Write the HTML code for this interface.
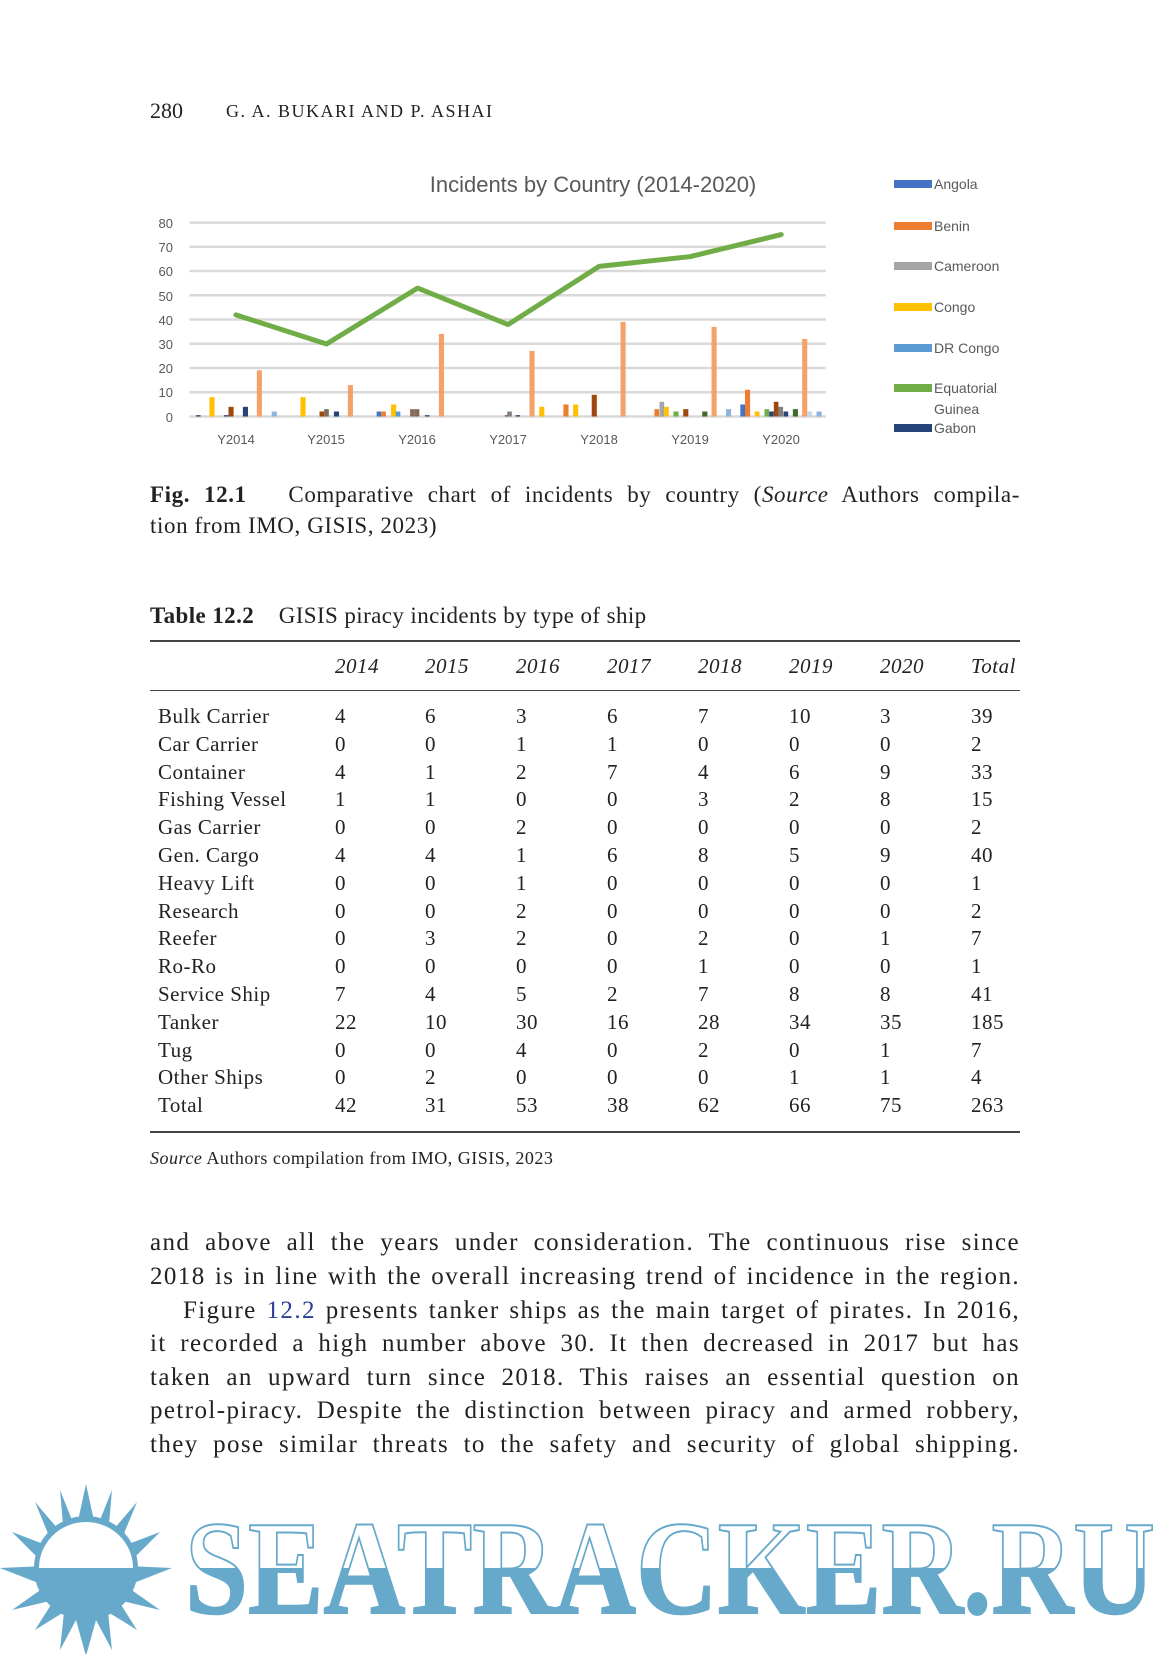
<!DOCTYPE html>
<html><head><meta charset="utf-8"><style>
body{margin:0;width:1166px;height:1654px;background:#fff;position:relative;overflow:hidden;font-family:"Liberation Serif",serif;color:#222}
.a{position:absolute;white-space:nowrap}
.j{position:absolute;left:150px;width:870px;text-align:justify;text-align-last:justify;white-space:nowrap;font-size:25px;line-height:25px;letter-spacing:1.4px}
.t{position:absolute;font-size:21px;line-height:21px;letter-spacing:0.5px}
.rule{position:absolute;left:150px;width:870px;height:1.5px;background:#444}
</style></head><body>
<div class="a" style="left:150px;top:98px;font-size:22px">280</div>
<div class="a" style="left:226px;top:101px;font-size:18px;letter-spacing:1.5px">G. A. BUKARI AND P. ASHAI</div>

<svg class="a" style="left:0;top:0" width="1166" height="460">
<text x="593" y="192" font-family="Liberation Sans" font-size="22" fill="#595959" text-anchor="middle">Incidents by Country (2014-2020)</text>
<g font-family="Liberation Sans" font-size="13" fill="#595959" text-anchor="end">
<text x="173" y="228">80</text><text x="173" y="252">70</text><text x="173" y="276">60</text><text x="173" y="301">50</text><text x="173" y="325">40</text><text x="173" y="349">30</text><text x="173" y="373">20</text><text x="173" y="397">10</text><text x="173" y="422">0</text>
</g>
<g font-family="Liberation Sans" font-size="13" fill="#595959" text-anchor="middle">
<text x="236" y="444">Y2014</text><text x="326" y="444">Y2015</text><text x="417" y="444">Y2016</text><text x="508" y="444">Y2017</text><text x="599" y="444">Y2018</text><text x="690" y="444">Y2019</text><text x="781" y="444">Y2020</text>
</g>
<g transform="translate(130,150) scale(0.4645,0.3344)">
<g stroke="#d9d9d9" stroke-width="2.5">
<line x1="128" x2="1498" y1="217" y2="217" vector-effect="non-scaling-stroke"/>
<line x1="128" x2="1498" y1="289.5" y2="289.5" vector-effect="non-scaling-stroke"/>
<line x1="128" x2="1498" y1="362" y2="362" vector-effect="non-scaling-stroke"/>
<line x1="128" x2="1498" y1="434.5" y2="434.5" vector-effect="non-scaling-stroke"/>
<line x1="128" x2="1498" y1="507" y2="507" vector-effect="non-scaling-stroke"/>
<line x1="128" x2="1498" y1="579.5" y2="579.5" vector-effect="non-scaling-stroke"/>
<line x1="128" x2="1498" y1="652" y2="652" vector-effect="non-scaling-stroke"/>
<line x1="128" x2="1498" y1="724.5" y2="724.5" vector-effect="non-scaling-stroke"/>
<line x1="128" x2="1498" y1="797" y2="797" vector-effect="non-scaling-stroke"/>
</g>
<g>
<rect x="142" y="793" width="10" height="4" fill="#264478"/>
<rect x="171" y="739" width="11" height="58" fill="#FFC000"/>
<rect x="202" y="793" width="10" height="4" fill="#264478"/>
<rect x="212" y="768" width="11" height="29" fill="#9E480E"/>
<rect x="243" y="768" width="11" height="29" fill="#264478"/>
<rect x="273" y="659" width="11" height="138" fill="#F4A26A"/>
<rect x="305" y="782" width="11" height="15" fill="#8FB4DE"/>
<rect x="367" y="739" width="11" height="58" fill="#FFC000"/>
<rect x="408" y="782" width="10" height="15" fill="#9E480E"/>
<rect x="418" y="775" width="10" height="22" fill="#7F6A5A"/>
<rect x="439" y="782" width="11" height="15" fill="#264478"/>
<rect x="469" y="703" width="11" height="94" fill="#F4A26A"/>
<rect x="531" y="782" width="10" height="15" fill="#4472C4"/>
<rect x="541" y="782" width="10" height="15" fill="#ED7D31"/>
<rect x="562" y="761" width="11" height="36" fill="#FFC000"/>
<rect x="572" y="782" width="10" height="15" fill="#5B9BD5"/>
<rect x="603" y="775" width="10" height="22" fill="#8B6A55"/>
<rect x="613" y="775" width="10" height="22" fill="#7F6A5A"/>
<rect x="635" y="793" width="10" height="4" fill="#264478"/>
<rect x="665" y="550" width="11" height="247" fill="#F4A26A"/>
<rect x="807" y="793" width="8" height="4" fill="#9E480E"/>
<rect x="812" y="782" width="10" height="15" fill="#7F7F7F"/>
<rect x="830" y="793" width="10" height="4" fill="#264478"/>
<rect x="860" y="601" width="11" height="196" fill="#F4A26A"/>
<rect x="881" y="768" width="11" height="29" fill="#FFC000"/>
<rect x="933" y="761" width="11" height="36" fill="#ED7D31"/>
<rect x="954" y="761" width="11" height="36" fill="#FFC000"/>
<rect x="994" y="732" width="11" height="65" fill="#9E480E"/>
<rect x="1056" y="514" width="11" height="283" fill="#F4A26A"/>
<rect x="1129" y="775" width="10" height="22" fill="#ED7D31"/>
<rect x="1140" y="753" width="10" height="44" fill="#A5A5A5"/>
<rect x="1150" y="768" width="10" height="29" fill="#FFC000"/>
<rect x="1170" y="782" width="11" height="15" fill="#70AD47"/>
<rect x="1191" y="775" width="11" height="22" fill="#9E480E"/>
<rect x="1232" y="782" width="11" height="15" fill="#43682B"/>
<rect x="1252" y="529" width="11" height="268" fill="#F4A26A"/>
<rect x="1283" y="775" width="11" height="22" fill="#8FB4DE"/>
<rect x="1314" y="761" width="10" height="36" fill="#4472C4"/>
<rect x="1324" y="717" width="11" height="80" fill="#ED7D31"/>
<rect x="1345" y="782" width="10" height="15" fill="#FFC000"/>
<rect x="1366" y="775" width="10" height="22" fill="#70AD47"/>
<rect x="1376" y="782" width="10" height="15" fill="#264478"/>
<rect x="1386" y="753" width="10" height="44" fill="#9E480E"/>
<rect x="1396" y="768" width="10" height="29" fill="#7F7F7F"/>
<rect x="1407" y="782" width="10" height="15" fill="#264478"/>
<rect x="1427" y="775" width="11" height="22" fill="#43682B"/>
<rect x="1447" y="565" width="11" height="232" fill="#F4A26A"/>
<rect x="1458" y="782" width="10" height="15" fill="#C5D6EA"/>
<rect x="1478" y="782" width="11" height="15" fill="#8FB4DE"/>
</g>
<polyline points="228,493 423,580 619,413 814,522 1010,348 1205,319 1402,253" fill="none" stroke="#70AD47" stroke-width="5" stroke-linejoin="round" stroke-linecap="round" vector-effect="non-scaling-stroke"/>
</g>
<g font-family="Liberation Sans" font-size="14" fill="#595959">
<rect x="894" y="180" width="38" height="8" fill="#4472C4"/><text x="934" y="189">Angola</text>
<rect x="894" y="222" width="38" height="8" fill="#ED7D31"/><text x="934" y="231">Benin</text>
<rect x="894" y="262" width="38" height="8" fill="#A5A5A5"/><text x="934" y="271">Cameroon</text>
<rect x="894" y="303" width="38" height="8" fill="#FFC000"/><text x="934" y="312">Congo</text>
<rect x="894" y="344" width="38" height="8" fill="#5B9BD5"/><text x="934" y="353">DR Congo</text>
<rect x="894" y="384" width="38" height="8" fill="#70AD47"/><text x="934" y="393">Equatorial</text><text x="934" y="414">Guinea</text>
<rect x="894" y="424" width="38" height="8" fill="#264478"/><text x="934" y="433">Gabon</text>
</g>
</svg>

<div class="j" style="top:482px;font-size:23px;letter-spacing:0.6px"><b>Fig. 12.1</b>&nbsp;&nbsp; Comparative chart of incidents by country (<i>Source</i> Authors compila-</div>
<div class="a" style="left:150px;top:513px;font-size:23px;letter-spacing:0.6px">tion from IMO, GISIS, 2023)</div>

<div class="a" style="left:150px;top:603px;font-size:23px;letter-spacing:0.4px"><b>Table 12.2</b>&nbsp;&nbsp;&nbsp; GISIS piracy incidents by type of ship</div>
<div class="rule" style="top:640px"></div>
<div class="rule" style="top:690px;height:1px"></div>
<div class="rule" style="top:1131px"></div>
<div class="t" style="top:656px;left:335px;font-style:italic">2014</div>
<div class="t" style="top:656px;left:425px;font-style:italic">2015</div>
<div class="t" style="top:656px;left:516px;font-style:italic">2016</div>
<div class="t" style="top:656px;left:607px;font-style:italic">2017</div>
<div class="t" style="top:656px;left:698px;font-style:italic">2018</div>
<div class="t" style="top:656px;left:789px;font-style:italic">2019</div>
<div class="t" style="top:656px;left:880px;font-style:italic">2020</div>
<div class="t" style="top:656px;left:971px;font-style:italic">Total</div>
<div id="tb"></div>
<div class="a" style="left:150px;top:1148px;font-size:18px;letter-spacing:0.5px"><i>Source</i> Authors compilation from IMO, GISIS, 2023</div>

<div class="j" style="top:1230px">and above all the years under consideration. The continuous rise since</div>
<div class="j" style="top:1264px">2018 is in line with the overall increasing trend of incidence in the region.</div>
<div class="j" style="top:1298px;left:183px;width:837px">Figure <span style="color:#2a3f9a">12.2</span> presents tanker ships as the main target of pirates. In 2016,</div>
<div class="j" style="top:1331px">it recorded a high number above 30. It then decreased in 2017 but has</div>
<div class="j" style="top:1365px">taken an upward turn since 2018. This raises an essential question on</div>
<div class="j" style="top:1398px">petrol-piracy. Despite the distinction between piracy and armed robbery,</div>
<div class="j" style="top:1432px">they pose similar threats to the safety and security of global shipping.</div>

<svg class="a" style="left:0;top:1460px" width="1166" height="194">
<defs><linearGradient id="g" gradientUnits="userSpaceOnUse" x1="0" y1="0" x2="0" y2="194"><stop offset="0.557" stop-color="#fff"/><stop offset="0.557" stop-color="#67A9CB"/></linearGradient></defs>
<g fill="#67A9CB">
<polygon points="86,24 96,70 112,30 108,76 137,42 118,88 160,72 126,106 172,108 126,126 160,150 118,140 137,170 108,152 112,190 96,160 86,196 76,160 60,190 64,152 35,170 54,140 12,150 46,126 0,108 46,106 12,72 54,88 35,42 64,76 60,30 76,70"/>
<circle cx="86" cy="108" r="52"/>
</g>
<path d="M39,108 A47,46 0 0 1 133,108 Z" fill="#fff"/>
<text x="185" y="153" font-family="Liberation Serif" font-weight="bold" font-size="134" textLength="970" lengthAdjust="spacingAndGlyphs" fill="url(#g)" stroke="#67A9CB" stroke-width="2">SEATRACKER.RU</text>
</svg>

<script>
var rows=[["Bulk Carrier",4,6,3,6,7,10,3,39],["Car Carrier",0,0,1,1,0,0,0,2],["Container",4,1,2,7,4,6,9,33],["Fishing Vessel",1,1,0,0,3,2,8,15],["Gas Carrier",0,0,2,0,0,0,0,2],["Gen. Cargo",4,4,1,6,8,5,9,40],["Heavy Lift",0,0,1,0,0,0,0,1],["Research",0,0,2,0,0,0,0,2],["Reefer",0,3,2,0,2,0,1,7],["Ro-Ro",0,0,0,0,1,0,0,1],["Service Ship",7,4,5,2,7,8,8,41],["Tanker",22,10,30,16,28,34,35,185],["Tug",0,0,4,0,2,0,1,7],["Other Ships",0,2,0,0,0,1,1,4],["Total",42,31,53,38,62,66,75,263]];
var xs=[158,335,425,516,607,698,789,880,971],h="";
rows.forEach(function(r,i){var y=706+i*27.8;r.forEach(function(c,k){h+='<div class="t" style="top:'+y+'px;left:'+xs[k]+'px">'+c+'</div>';});});
document.getElementById('tb').innerHTML=h;
</script>
</body></html>
